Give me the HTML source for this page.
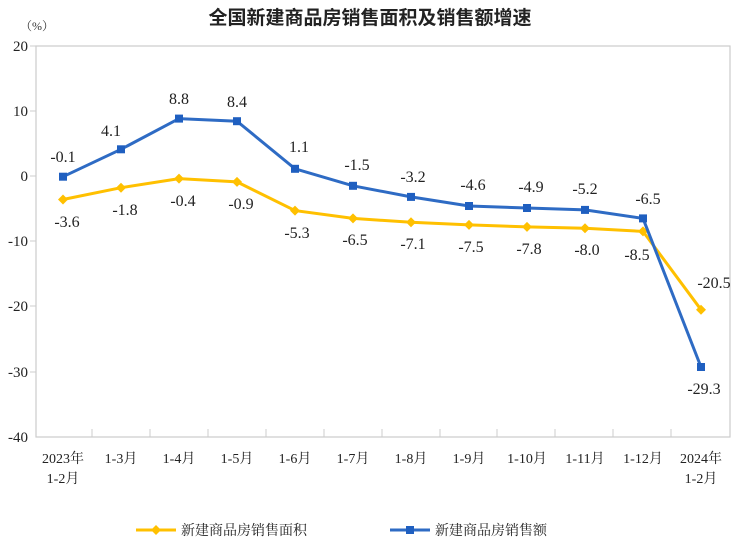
<!DOCTYPE html><html><head><meta charset="utf-8"><style>body{margin:0;background:#fff}svg{display:block}</style></head><body>
<svg width="740" height="544" xmlns="http://www.w3.org/2000/svg" font-family="'Liberation Serif','Noto Serif CJK SC',serif">
<text x="370" y="24" text-anchor="middle" font-family="'Liberation Sans','Noto Sans CJK SC',sans-serif" font-size="19" font-weight="bold" fill="#222">全国新建商品房销售面积及销售额增速</text>
<text x="20" y="30" font-size="12" fill="#333">（%）</text>
<rect x="36" y="46" width="694" height="391" fill="none" stroke="#ccc" stroke-width="1.2"/>
<g font-size="15" fill="#222" text-anchor="end">
<text x="28" y="51">20</text><text x="28" y="116">10</text><text x="28" y="181">0</text><text x="28" y="246">-10</text><text x="28" y="311">-20</text><text x="28" y="377">-30</text><text x="28" y="442">-40</text></g>
<g stroke="#ccc" stroke-width="1"><line x1="30" y1="46" x2="36" y2="46"/><line x1="30" y1="111" x2="36" y2="111"/><line x1="30" y1="176" x2="36" y2="176"/><line x1="30" y1="241" x2="36" y2="241"/><line x1="30" y1="306" x2="36" y2="306"/><line x1="30" y1="372" x2="36" y2="372"/>
<line x1="92" y1="437" x2="92" y2="429"/><line x1="150" y1="437" x2="150" y2="429"/><line x1="208" y1="437" x2="208" y2="429"/><line x1="266" y1="437" x2="266" y2="429"/><line x1="324" y1="437" x2="324" y2="429"/><line x1="382" y1="437" x2="382" y2="429"/><line x1="440" y1="437" x2="440" y2="429"/><line x1="497" y1="437" x2="497" y2="429"/><line x1="555" y1="437" x2="555" y2="429"/><line x1="613" y1="437" x2="613" y2="429"/><line x1="671" y1="437" x2="671" y2="429"/></g>
<g font-size="14" fill="#222" text-anchor="middle">
<text x="63" y="463">2023年</text><text x="63" y="483">1-2月</text>
<text x="121" y="463">1-3月</text><text x="179" y="463">1-4月</text><text x="237" y="463">1-5月</text><text x="295" y="463">1-6月</text><text x="353" y="463">1-7月</text><text x="411" y="463">1-8月</text><text x="469" y="463">1-9月</text><text x="527" y="463">1-10月</text><text x="585" y="463">1-11月</text><text x="643" y="463">1-12月</text>
<text x="701" y="463">2024年</text><text x="701" y="483">1-2月</text></g>
<polyline fill="none" stroke="#FFC000" stroke-width="3" points="63,199.5 121,187.7 179,178.6 237,181.9 295,210.6 353,218.4 411,222.3 469,224.9 527,226.9 585,228.2 643,231.4 701,309.7"/>
<g fill="#FFC000">
<path d="M63,194.5l5,5l-5,5l-5,-5z M121,182.7l5,5l-5,5l-5,-5z M179,173.6l5,5l-5,5l-5,-5z M237,176.9l5,5l-5,5l-5,-5z M295,205.6l5,5l-5,5l-5,-5z M353,213.4l5,5l-5,5l-5,-5z M411,217.3l5,5l-5,5l-5,-5z M469,219.9l5,5l-5,5l-5,-5z M527,221.9l5,5l-5,5l-5,-5z M585,223.2l5,5l-5,5l-5,-5z M643,226.4l5,5l-5,5l-5,-5z M701,304.7l5,5l-5,5l-5,-5z"/></g>
<polyline fill="none" stroke="#2E6BC4" stroke-width="3" points="63,176.7 121,149.3 179,118.6 237,121.2 295,168.8 353,185.8 411,196.9 469,206 527,208 585,209.9 643,218.4 701,367"/>
<g fill="#1F5FC0">
<rect x="59" y="172.7" width="8" height="8"/><rect x="117" y="145.3" width="8" height="8"/><rect x="175" y="114.6" width="8" height="8"/><rect x="233" y="117.2" width="8" height="8"/><rect x="291" y="164.8" width="8" height="8"/><rect x="349" y="181.8" width="8" height="8"/><rect x="407" y="192.9" width="8" height="8"/><rect x="465" y="202" width="8" height="8"/><rect x="523" y="204" width="8" height="8"/><rect x="581" y="205.9" width="8" height="8"/><rect x="639" y="214.4" width="8" height="8"/><rect x="697" y="363" width="8" height="8"/></g>
<g font-size="16" fill="#222" text-anchor="middle">
<text x="63" y="162">-0.1</text><text x="111" y="136">4.1</text><text x="179" y="104">8.8</text><text x="237" y="107">8.4</text><text x="299" y="152">1.1</text><text x="357" y="170">-1.5</text><text x="413" y="182">-3.2</text><text x="473" y="190">-4.6</text><text x="531" y="192">-4.9</text><text x="585" y="194">-5.2</text><text x="648" y="204">-6.5</text>
<text x="704" y="394">-29.3</text>
<text x="67" y="227">-3.6</text><text x="125" y="215">-1.8</text><text x="183" y="206">-0.4</text><text x="241" y="209">-0.9</text><text x="297" y="238">-5.3</text><text x="355" y="245">-6.5</text><text x="413" y="249">-7.1</text><text x="471" y="252">-7.5</text><text x="529" y="254">-7.8</text><text x="587" y="255">-8.0</text><text x="637" y="260">-8.5</text>
<text x="714" y="288">-20.5</text></g>
<line x1="136" y1="530" x2="176" y2="530" stroke="#FFC000" stroke-width="3"/><path d="M156,525l5,5l-5,5l-5,-5z" fill="#FFC000"/>
<text x="181" y="535" font-size="14" fill="#222">新建商品房销售面积</text>
<line x1="390" y1="530" x2="430" y2="530" stroke="#2E6BC4" stroke-width="3"/><rect x="406" y="526" width="8" height="8" fill="#1F5FC0"/>
<text x="435" y="535" font-size="14" fill="#222">新建商品房销售额</text>
</svg></body></html>
